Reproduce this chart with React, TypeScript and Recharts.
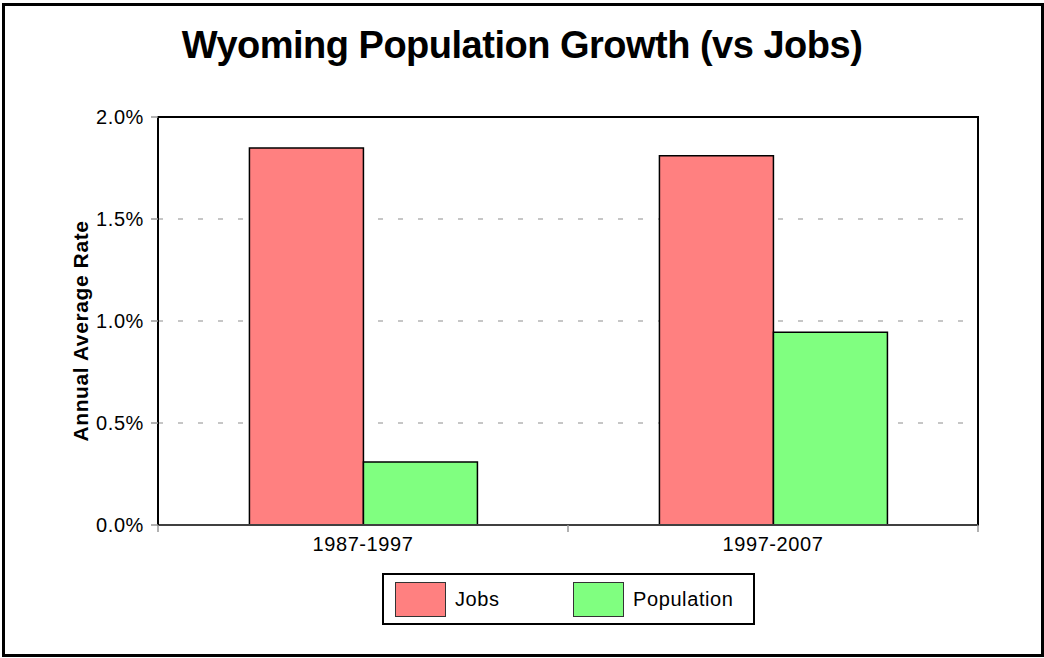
import React from 'react';
import { Bar, BarChart, CartesianGrid, Legend, ReferenceArea, XAxis, YAxis } from 'recharts';

const periods = ['1987-1997', '1997-2007'];
const jobsRate = [1.848, 1.81];
const populationRate = [0.309, 0.945];
const rateTicks = [0, 0.5, 1, 1.5, 2];

const seriesNames = { jobs: 'Jobs', population: 'Population' };
const seriesColors = { jobs: '#ff8080', population: '#80ff80' };

const data = periods.map((period, i) => ({
  period,
  jobs: jobsRate[i],
  population: populationRate[i],
}));

const FONT = '"Liberation Sans", Arial, sans-serif';

const PeriodTick = (props: any) => {
  const { x, y, payload, index, visibleTicksCount } = props;
  const half = payload?.offset ?? 0;
  const axisY = y - 12;
  return (
    <g>
      <line x1={x - half} x2={x - half} y1={axisY} y2={axisY + 7} stroke="#999" strokeWidth={1.5} />
      {index === visibleTicksCount - 1 && (
        <line x1={x + half} x2={x + half} y1={axisY} y2={axisY + 7} stroke="#999" strokeWidth={1.5} />
      )}
      <text
        x={x}
        y={y}
        dy="0.71em"
        textAnchor="middle"
        fill="#000"
        fontSize={20}
        letterSpacing={0.6}
        fontFamily={FONT}
      >
        {payload.value}
      </text>
    </g>
  );
};

const RateAxisLabel = (props: any) => {
  const { viewBox } = props;
  const x = viewBox.x + 10;
  const y = viewBox.y + viewBox.height / 2 + 10;
  return (
    <text
      x={x}
      y={y}
      transform={`rotate(-90, ${x}, ${y})`}
      textAnchor="middle"
      fontSize={21}
      fontWeight="bold"
      letterSpacing={0.6}
      fontFamily={FONT}
      fill="#000"
    >
      Annual Average Rate
    </text>
  );
};

const LegendBox = (props: any) => {
  const { payload } = props;
  return (
    <div
      style={{
        boxSizing: 'border-box',
        width: 373,
        height: 52,
        border: '2px solid #000',
        display: 'flex',
        alignItems: 'center',
        paddingLeft: 11,
        background: '#fff',
      }}
    >
      {(payload || []).map((entry: any) => (
        <div key={entry.value} style={{ width: 178, display: 'flex', alignItems: 'center' }}>
          <div
            style={{
              boxSizing: 'border-box',
              width: 51,
              height: 35,
              background: entry.color,
              border: '1.5px solid #333',
            }}
          />
          <span style={{ marginLeft: 9, fontSize: 20, letterSpacing: 0.6, color: '#000' }}>
            {entry.value}
          </span>
        </div>
      ))}
    </div>
  );
};

export default function App() {
  return (
    <div
      style={{
        position: 'absolute',
        left: 0,
        top: 0,
        width: 1044,
        height: 658,
        background: '#fff',
        fontFamily: FONT,
      }}
    >
      <div
        style={{
          position: 'absolute',
          left: 2,
          top: 3,
          width: 1042,
          height: 654,
          boxSizing: 'border-box',
          border: '3px solid #000',
        }}
      />
      <div
        style={{
          position: 'absolute',
          left: 0,
          top: 26,
          width: 1044,
          textAlign: 'center',
          fontSize: 38,
          lineHeight: '38px',
          fontWeight: 'bold',
          letterSpacing: -0.5,
          color: '#000',
        }}
      >
        Wyoming Population Growth (vs Jobs)
      </div>
      <BarChart
        width={1044}
        height={658}
        data={data}
        margin={{ top: 117, right: 66, bottom: 93, left: 78 }}
        barCategoryGap="22.3%"
        barGap={0}
      >
        <CartesianGrid
          vertical={false}
          stroke="#b4b4b4"
          strokeWidth={1.5}
          strokeDasharray="5 15"
        />
        <ReferenceArea
          x1={periods[0]}
          x2={periods[periods.length - 1]}
          y1={0}
          y2={2}
          fill="none"
          stroke="#000"
          strokeWidth={2}
          fillOpacity={0}
          ifOverflow="visible"
        />
        <XAxis
          dataKey="period"
          height={40}
          tickLine={false}
          tickSize={7}
          tickMargin={5}
          axisLine={{ stroke: '#404040', strokeWidth: 2 }}
          tick={<PeriodTick />}
        />
        <YAxis
          width={80}
          domain={[0, 2]}
          ticks={rateTicks}
          tickFormatter={(v: number) => `${v.toFixed(1)}%`}
          tickSize={7}
          tickMargin={7}
          tickLine={{ stroke: '#999', strokeWidth: 1.5 }}
          axisLine={{ stroke: '#000', strokeWidth: 2 }}
          tick={{ fill: '#000', fontSize: 20, letterSpacing: 0.6, fontFamily: FONT }}
          label={<RateAxisLabel />}
        />
        <Legend
          layout="vertical"
          align="center"
          verticalAlign="middle"
          wrapperStyle={{ left: 382, top: 573, width: 373, height: 52 }}
          content={<LegendBox />}
        />
        <Bar
          dataKey="jobs"
          name={seriesNames.jobs}
          fill={seriesColors.jobs}
          stroke="#000"
          strokeWidth={1.5}
          isAnimationActive={false}
        />
        <Bar
          dataKey="population"
          name={seriesNames.population}
          fill={seriesColors.population}
          stroke="#000"
          strokeWidth={1.5}
          isAnimationActive={false}
        />
      </BarChart>
    </div>
  );
}
